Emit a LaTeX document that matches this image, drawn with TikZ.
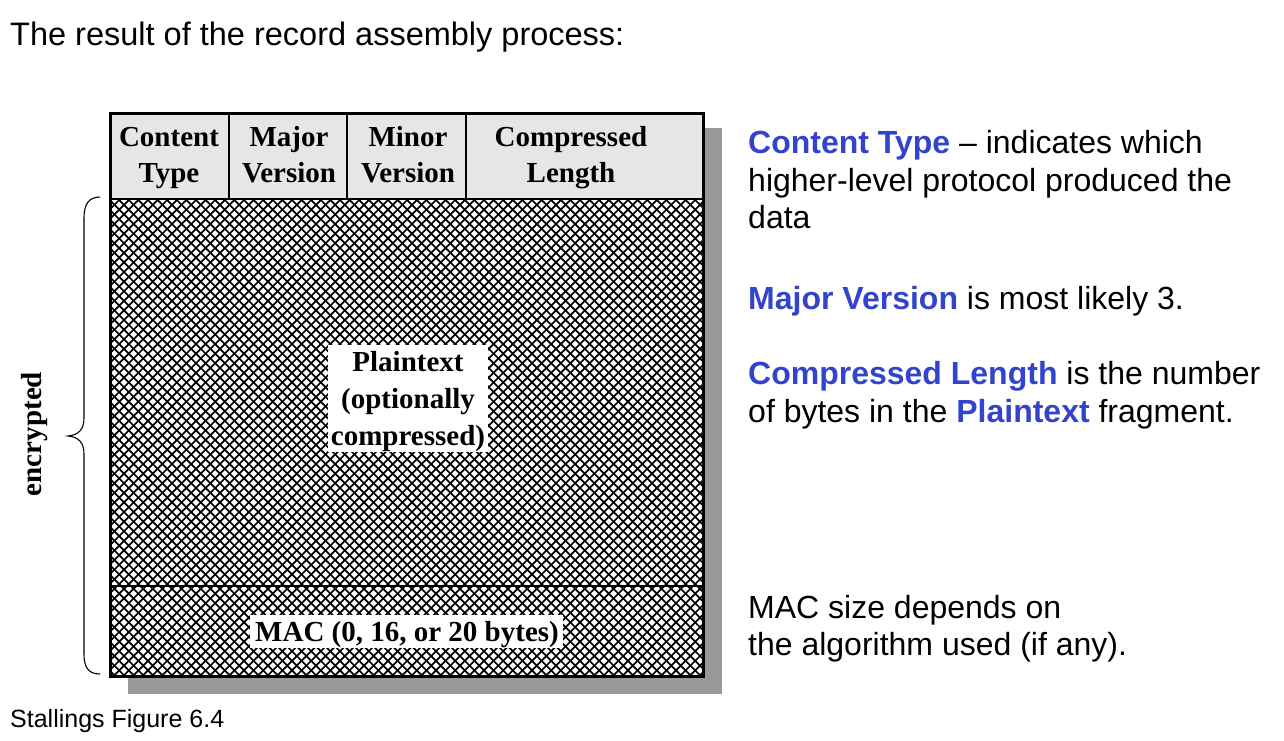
\documentclass[tikz,border=0pt]{standalone}
\usepackage{fontspec}
\setmainfont{Liberation Serif}
\newfontfamily\arial{Liberation Sans}
\definecolor{hdrgray}{RGB}{230,230,230}
\definecolor{shadowgray}{RGB}{153,153,153}
\definecolor{kwblue}{RGB}{51,68,204}
\begin{document}
\begin{tikzpicture}[x=1pt,y=-1pt,
  hdr/.style={font=\fontsize{29}{37}\selectfont\bfseries, align=center, inner sep=0pt},
  side/.style={font=\arial\fontsize{32}{37.5}\selectfont, anchor=base west, inner sep=0pt},
  hatch/.style={line width=1.7pt},
]
\newcommand{\kwd}[1]{{\color{kwblue}\bfseries #1}}
\useasboundingbox (0,0) rectangle (1284,740);
% shadow
\fill[shadowgray] (128,128) rectangle (722,694);
% header
\fill[hdrgray] (110,113) rectangle (703,199);
% hatched body
\fill[white] (110,199) rectangle (703,676);
\begin{scope}
  \clip (110,199) rectangle (703,676);
  \foreach \c in {300,309.6,...,1400} {
    \draw[hatch] (\c-190,190) -- (\c-690,690);
  }
  \foreach \c in {-580,-570.4,...,530} {
    \draw[hatch] (\c+190,190) -- (\c+690,690);
  }
\end{scope}
% dividers
\draw[line width=2pt] (110,199) -- (703,199);
\draw[line width=2pt] (110,586) -- (703,586);
\draw[line width=2pt] (229,113) -- (229,199);
\draw[line width=2pt] (347,113) -- (347,199);
\draw[line width=2pt] (466,113) -- (466,199);
\draw[line width=3pt] (110,113) rectangle (703,676);
% header texts
\node[hdr, anchor=base] (ct1) at (169,146) {Content};
\node[hdr, anchor=base] (ct2) at (169,182) {Type};
\node[hdr, anchor=base] (mj1) at (289,146) {Major};
\node[hdr, anchor=base] (mj2) at (289,182) {Version};
\node[hdr, anchor=base] (mn1) at (408,146) {Minor};
\node[hdr, anchor=base] (mn2) at (408,182) {Version};
\node[hdr, anchor=base] (cl1) at (571,146) {Compressed};
\node[hdr, anchor=base] (cl2) at (571,182) {Length};
% plaintext label
\fill[white] (328,345) rectangle (488,452);
\node[hdr, anchor=base] (pt1) at (408,371) {Plaintext};
\node[hdr, anchor=base] (pt2) at (408,408) {(optionally};
\node[hdr, anchor=base] (pt3) at (408,445) {compressed)};
% MAC label
\fill[white] (250,615) rectangle (563,648);
\node[hdr, anchor=base] (mac) at (407,641) {MAC (0, 16, or 20 bytes)};
% brace
\draw[line width=1.1pt] (100,197) .. controls (89,197) and (84,204) .. (84,218) -- (84,418)
  .. controls (84,429) and (79,435) .. (68,436)
  .. controls (79,437) and (84,443) .. (84,454) -- (84,654)
  .. controls (84,668) and (89,674) .. (100,674);
\node[hdr, rotate=90] (enc) at (35,434) {encrypted};
% title & caption
\node[font=\arial\fontsize{32.5}{38}\selectfont, anchor=base west, inner sep=0pt] (title) at (10,45) {The result of the record assembly process:};
\node[font=\arial\fontsize{25}{28}\selectfont, anchor=base west, inner sep=0pt] (cap) at (10,727) {Stallings Figure 6.4};
% side notes
\node[side] (n1a) at (748,153) {\kwd{Content Type} \textendash{} indicates which};
\node[side] (n1b) at (748,191) {higher-level protocol produced the};
\node[side] (n1c) at (748,228) {data};
\node[side] (n2) at (748,309) {\kwd{Major Version} is most likely 3.};
\node[side] (n3a) at (748,384) {\kwd{Compressed Length} is the number};
\node[side] (n3b) at (748,422) {of bytes in the \kwd{Plaintext} fragment.};
\node[side] (n4a) at (748,618) {MAC size depends on};
\node[side] (n4b) at (748,655) {the algorithm used (if any).};
\end{tikzpicture}
\end{document}
